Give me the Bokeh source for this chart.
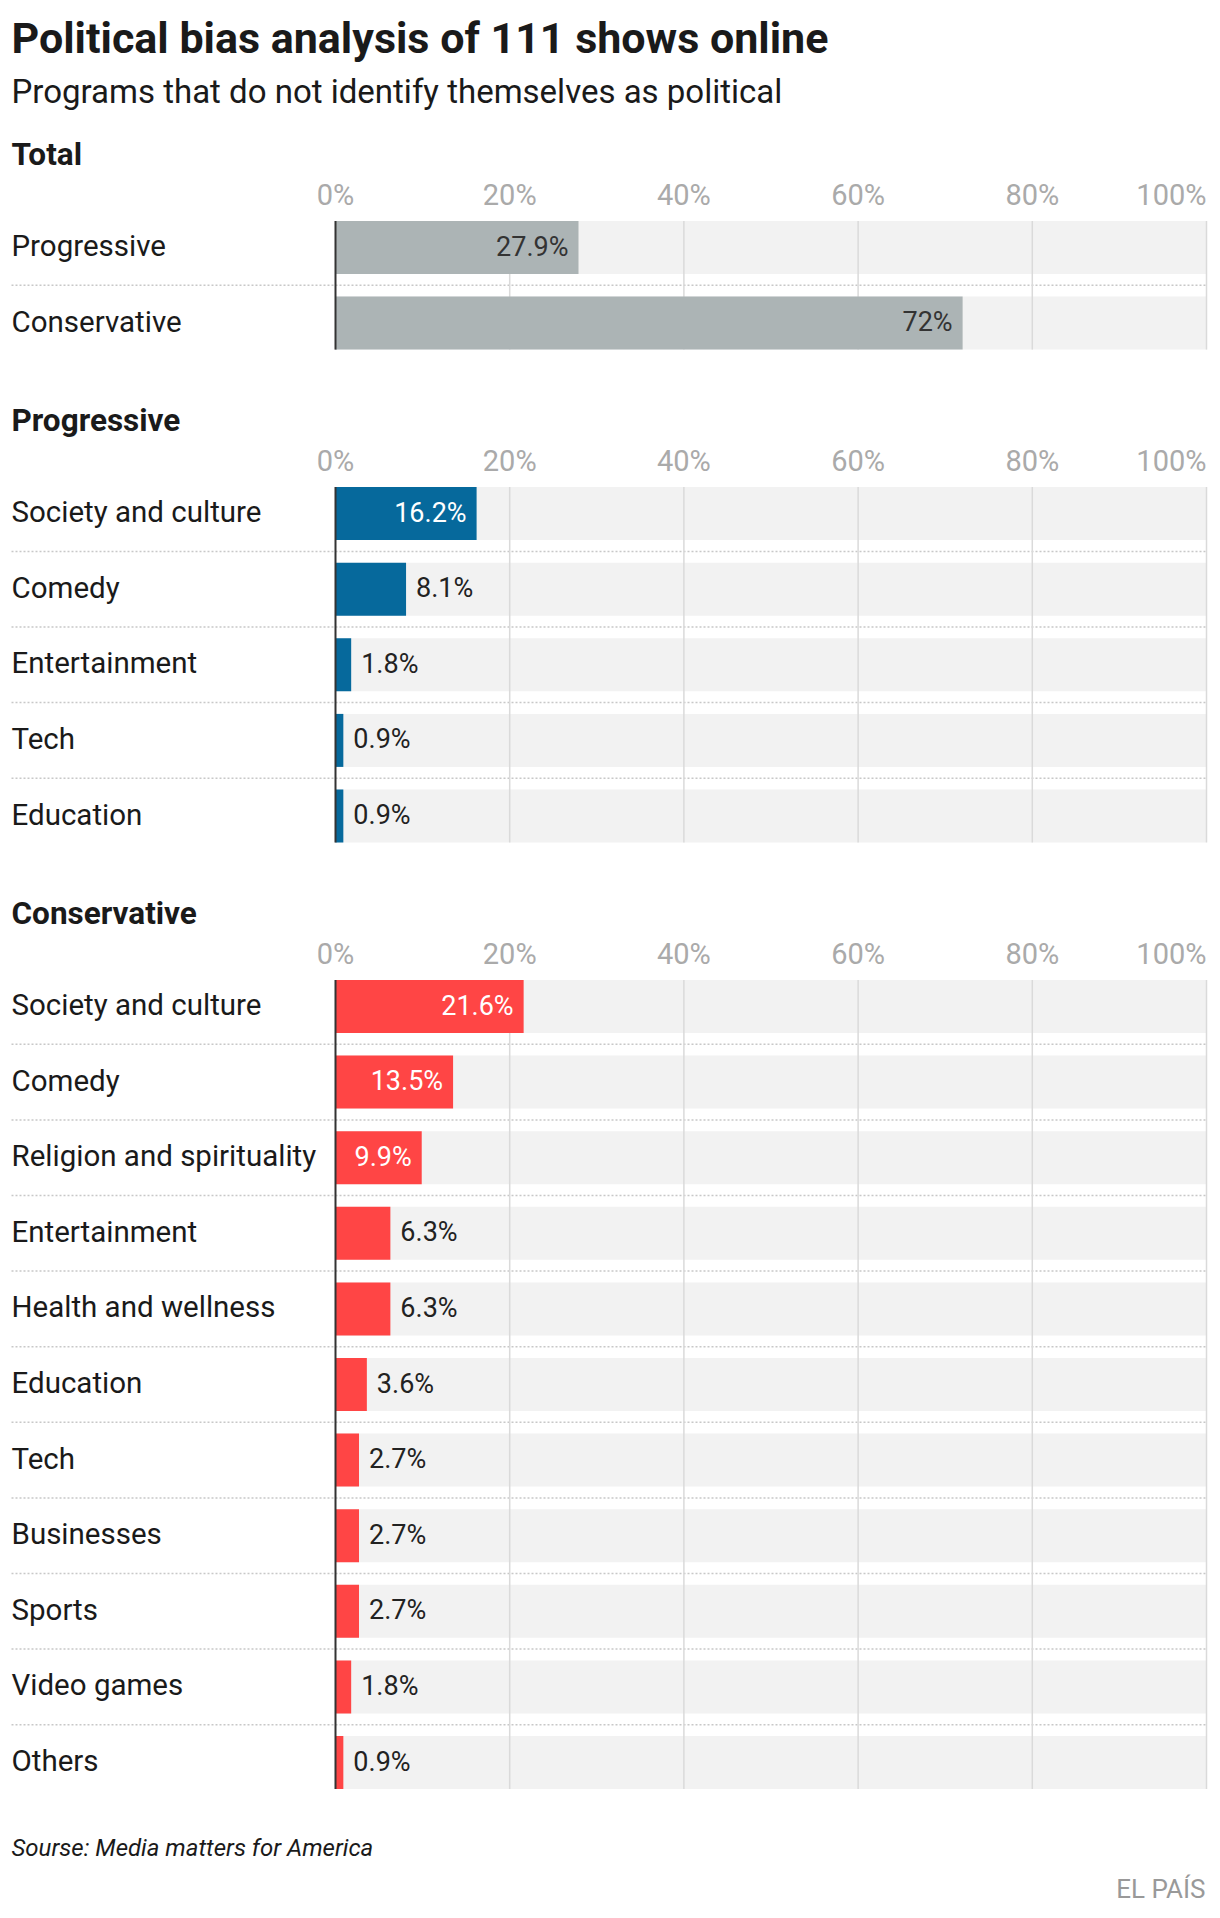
from bokeh.plotting import figure
from bokeh.models import Range1d
from bokeh.core.properties import value
from bokeh.embed import file_html
from bokeh.resources import INLINE

# ---------------- data ----------------
title_text = "Political bias analysis of 111 shows online"
subtitle_text = "Programs that do not identify themselves as political"
source_text = "Sourse: Media matters for America"
brand_text = "EL PAÍS"

total_cats = ["Progressive", "Conservative"]
total_vals = [27.9, 72]

prog_cats = ["Society and culture", "Comedy", "Entertainment", "Tech", "Education"]
prog_vals = [16.2, 8.1, 1.8, 0.9, 0.9]

cons_cats = ["Society and culture", "Comedy", "Religion and spirituality", "Entertainment",
             "Health and wellness", "Education", "Tech", "Businesses", "Sports",
             "Video games", "Others"]
cons_vals = [21.6, 13.5, 9.9, 6.3, 6.3, 3.6, 2.7, 2.7, 2.7, 1.8, 0.9]

tick_vals = [0, 20, 40, 60, 80, 100]
tick_labels = ["0%", "20%", "40%", "60%", "80%", "100%"]

# ---------------- layout / style ----------------
W, H = 1212, 1906
PX = 8.71           # pixels per percent
X0PX = 335.0        # pixel position of 0 %
PITCH = 75.6
BAR_H = 53
FONT = value("Roboto")

GRAY = "#acb4b5"
BLUE = "#06699c"
RED = "#ff4545"
BG = "#f2f2f2"


def xd(px):
    return (px - X0PX) / PX


p = figure(width=W, height=H, output_backend="svg", toolbar_location=None,
           x_range=Range1d(xd(0), xd(W)), y_range=Range1d(H, 0),
           min_border=0, x_axis_type=None, y_axis_type=None)
p.grid.visible = False
p.outline_line_color = None
p.background_fill_color = "white"
p.border_fill_color = "white"

LEFT = xd(11)

# title + subtitle
p.text(x=[LEFT], y=[37], text=[title_text], text_font=FONT, text_font_style="bold",
       text_font_size="43px", text_color="#1a1a1a", text_baseline="middle")
p.text(x=[LEFT], y=[91], text=[subtitle_text], text_font=FONT,
       text_font_size="33px", text_color="#1a1a1a", text_baseline="middle")

sections = [
    ("Total", total_cats, total_vals, GRAY, "#333333"),
    ("Progressive", prog_cats, prog_vals, BLUE, "white"),
    ("Conservative", cons_cats, cons_vals, RED, "white"),
]

header_y = 164  # baseline of the section header
for header, cats, vals, color, inside_color in sections:
    n = len(cats)
    top = header_y + 56.5
    centers = [top + BAR_H / 2 + i * PITCH for i in range(n)]
    bottom = centers[-1] + BAR_H / 2

    # section header
    p.text(x=[LEFT], y=[header_y - 10.5], text=[header], text_font=FONT, text_font_style="bold",
           text_font_size="31.5px", text_color="#1a1a1a", text_baseline="middle")

    # tick labels
    tick_y = header_y + 40 - 10
    p.text(x=tick_vals[:-1], y=[tick_y] * (len(tick_vals) - 1), text=tick_labels[:-1],
           text_font=FONT, text_font_size="29px", text_color="#aaaaaa",
           text_align="center", text_baseline="middle")
    p.text(x=tick_vals[-1:], y=[tick_y], text=tick_labels[-1:],
           text_font=FONT, text_font_size="29px", text_color="#aaaaaa",
           text_align="right", text_baseline="middle")

    # background bars
    p.hbar(y=centers, left=0, right=100, height=BAR_H, fill_color=BG, line_color=None)

    # dotted separators
    seps = [c + PITCH / 2 for c in centers[:-1]]
    if seps:
        p.segment(x0=[LEFT] * len(seps), x1=[100] * len(seps), y0=seps, y1=seps,
                  line_color="#c8c8c8", line_width=1.5, line_dash="2 2")

    # gridlines
    gv = tick_vals[1:]
    p.segment(x0=gv, x1=gv, y0=[top] * len(gv), y1=[bottom] * len(gv),
              line_color="#dadada", line_width=1.5)

    # bars
    p.hbar(y=centers, left=0, right=vals, height=BAR_H, fill_color=color, line_color=None)

    # category labels
    p.text(x=[LEFT] * n, y=[c - 1.5 for c in centers], text=cats, text_font=FONT,
           text_font_size="29.5px", text_color="#1a1a1a", text_baseline="middle")

    # value labels
    in_x, in_y, in_t, out_x, out_y, out_t = [], [], [], [], [], []
    for c, v in zip(centers, vals):
        lab = f"{v:g}%"
        if v >= 9:
            in_x.append(v - 10 / PX); in_y.append(c - 1); in_t.append(lab)
        else:
            out_x.append(v + 10 / PX); out_y.append(c - 1); out_t.append(lab)
    if in_t:
        p.text(x=in_x, y=in_y, text=in_t, text_font=FONT, text_font_size="27px",
               text_color=inside_color, text_align="right", text_baseline="middle")
    if out_t:
        p.text(x=out_x, y=out_y, text=out_t, text_font=FONT, text_font_size="27px",
               text_color="#222222", text_align="left", text_baseline="middle")

    # zero line
    p.segment(x0=[0], x1=[0], y0=[top], y1=[bottom], line_color="#333333", line_width=2)

    header_y = bottom + 81

# footer
p.text(x=[LEFT], y=[1847], text=[source_text], text_font=FONT, text_font_style="italic",
       text_font_size="24px", text_color="#1a1a1a", text_baseline="middle")
p.text(x=[xd(1205)], y=[1888], text=[brand_text], text_font=FONT,
       text_font_size="26px", text_color="#999999", text_align="right",
       text_baseline="middle")

open("out.html", "w").write(file_html(p, INLINE))
